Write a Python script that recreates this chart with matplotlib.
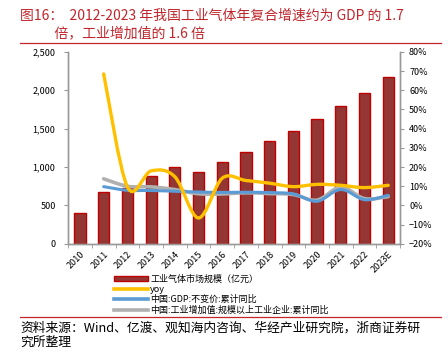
import matplotlib
matplotlib.use("Agg")
import matplotlib.pyplot as plt
from matplotlib.path import Path
from matplotlib.patches import PathPatch
from matplotlib.lines import Line2D
from matplotlib.patches import Patch
import numpy as np

plt.rcParams['font.family'] = ['Noto Sans CJK SC', 'DejaVu Sans']
plt.rcParams['axes.unicode_minus'] = True

years = ['2010', '2011', '2012', '2013', '2014', '2015', '2016',
         '2017', '2018', '2019', '2020', '2021', '2022', '2023E']
market = [400, 670, 730, 880, 1005, 940, 1060, 1200, 1345, 1465, 1630, 1800, 1965, 2175]
yoy = [None, 68.5, 9.7, 18.0, 15.0, -6.5, 14.2, 13.0, 11.6, 9.8, 11.0, 10.5, 9.3, 10.5]
gdp = [None, 9.8, 7.9, 7.8, 7.4, 7.0, 6.8, 6.9, 6.7, 6.0, 2.2, 8.3, 3.0, 5.3]
ind = [None, 13.9, 10.0, 9.7, 8.3, 6.1, 6.0, 6.6, 6.2, 5.7, 2.8, 9.6, 3.6, 4.6]

title = '图16：  2012-2023 年我国工业气体年复合增速约为 GDP 的 1.7\n           倍，工业增加值的 1.6 倍'
source = '资料来源：Wind、亿渡、观知海内咨询、华经产业研究院，浙商证券研\n究所整理'
labels = ['工业气体市场规模（亿元）', 'yoy', '中国:GDP:不变价:累计同比',
          '中国:工业增加值:规模以上工业企业:累计同比']

RED = '#c0262c'
BAR = '#943634'
GOLD = '#ffc000'
BLUE = '#5b9bd5'
GREY = '#b0b0b0'


def smooth_path(xs, ys):
    # Excel-style smoothed line: Catmull-Rom segments as cubic Bezier
    pts = np.column_stack([xs, ys]).astype(float)
    verts = [pts[0]]
    codes = [Path.MOVETO]
    n = len(pts)
    for i in range(n - 1):
        p0 = pts[i - 1] if i > 0 else pts[i]
        p1 = pts[i]
        p2 = pts[i + 1]
        p3 = pts[i + 2] if i + 2 < n else pts[i + 1]
        c1 = p1 + (p2 - p0) / 6.0
        c2 = p2 - (p3 - p1) / 6.0
        verts += [c1, c2, p2]
        codes += [Path.CURVE4] * 3
    return Path(verts, codes)


fig = plt.figure(figsize=(4.48, 3.55), dpi=100)
ax = fig.add_axes([0.152, 0.313, 0.741, 0.541])
ax2 = ax.twinx()

x = np.arange(len(years))
ax.bar(x, market, width=0.47, color=BAR, edgecolor='#c00000', linewidth=1.0, zorder=2)
ax.set_xlim(-0.5, len(years) - 0.5)
ax.set_ylim(0, 2500)
ax.set_yticks(range(0, 2501, 500))
ax.set_yticklabels(['0', '500', '1,000', '1,500', '2,000', '2,500'])
ax.set_xticks(x)
ax.set_xticklabels(years, rotation=45, ha='right', rotation_mode='anchor')
ax.set_xticks(np.arange(-0.5, len(years), 1), minor=True)
ax.tick_params(axis='x', which='major', length=0, labelsize=6.5, pad=4)
ax.tick_params(axis='x', which='minor', length=3, color='#999999')
ax.tick_params(axis='y', labelsize=6.5, length=3, color='#999999', pad=6)

ax2.set_ylim(-20, 80)
ax2.set_yticks(range(-20, 81, 10))
ax2.set_yticklabels([f'{v}%'.replace('-', '−') for v in range(-20, 81, 10)])
ax2.tick_params(axis='y', labelsize=6.5, length=3, color='#999999')

for a in (ax, ax2):
    a.spines['top'].set_visible(False)
    for s in ('left', 'right', 'bottom'):
        a.spines[s].set_color('#999999')
        a.spines[s].set_linewidth(1.0)

for ser, col, lw in ((ind, GREY, 2.6), (gdp, BLUE, 2.2), (yoy, GOLD, 2.4)):
    xs = [i for i, v in enumerate(ser) if v is not None]
    ys = [v for v in ser if v is not None]
    ax2.add_patch(PathPatch(smooth_path(xs, ys), facecolor='none',
                            edgecolor=col, linewidth=lw, capstyle='round',
                            zorder=3))
ax2.set_zorder(ax.get_zorder() + 1)
ax2.patch.set_visible(False)

handles = [Patch(facecolor=BAR, edgecolor='#c00000', linewidth=1.0),
           Line2D([], [], color=GOLD, lw=2.6),
           Line2D([], [], color=BLUE, lw=2.6),
           Line2D([], [], color=GREY, lw=2.6)]
fig.legend(handles, labels, loc='upper left', bbox_to_anchor=(0.255, 0.226),
           frameon=False, fontsize=6.5, handlelength=3.7, handleheight=0.5,
           labelspacing=0.12, handletextpad=0.3, borderpad=0, borderaxespad=0)

fig.text(0.045, 0.975, title, color=RED, fontsize=10, va='top', ha='left',
         linespacing=1.3)
fig.add_artist(Line2D([0.045, 0.985], [0.878, 0.878], color=RED, lw=0.9))
fig.add_artist(Line2D([0.045, 0.985], [0.107, 0.107], color=RED, lw=0.9))
fig.text(0.045, 0.095, source, color='black', fontsize=9.2, va='top', ha='left',
         linespacing=1.2)

fig.savefig('out.png', dpi=100)
